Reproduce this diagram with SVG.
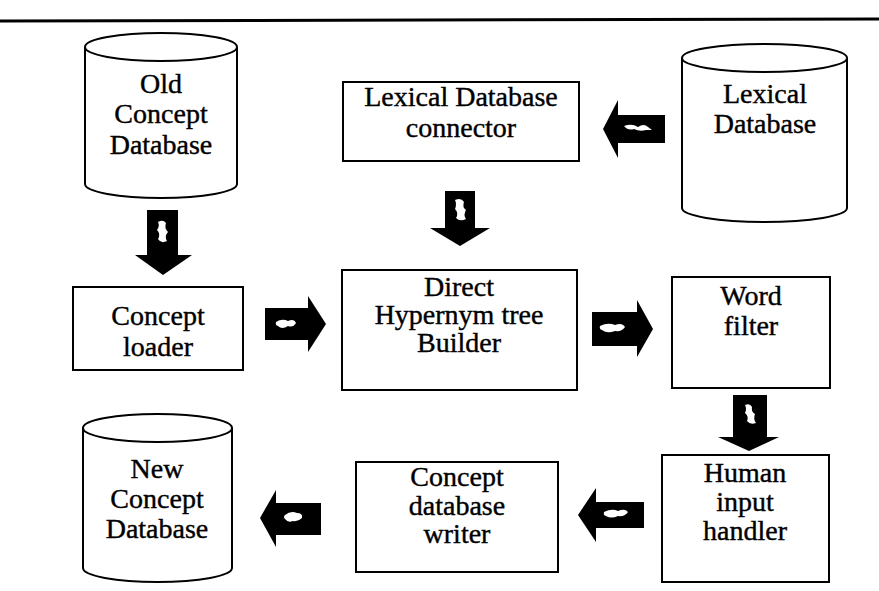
<svg xmlns="http://www.w3.org/2000/svg" width="879" height="591" viewBox="0 0 879 591">
<style>
.bx{fill:#fff;stroke:#000;stroke-width:2}
.cy{fill:#fff;stroke:#000;stroke-width:2}
.t{font-family:"Liberation Serif","Times New Roman",serif;font-size:28px;fill:#000;stroke:#000;stroke-width:0.4;text-anchor:middle}
.s{font-size:26px}
.ar{fill:#000}
.bl{fill:#fff}
</style>
<rect width="879" height="591" fill="#fff"/>
<line x1="0" y1="21" x2="879" y2="19" stroke="#000" stroke-width="3"/>

<g id="old-concept-db">
<path class="cy" d="M85,47 L85,184 A76,14 0 0 0 237,184 L237,47"/>
<ellipse class="cy" cx="161" cy="47" rx="76" ry="14"/>
<text class="t" x="161" y="93">Old</text>
<text class="t" x="161" y="123">Concept</text>
<text class="t" x="161" y="154">Database</text>
</g>

<g id="lexical-connector">
<rect class="bx" x="343" y="82" width="236" height="79"/>
<text class="t" x="461" y="106">Lexical Database</text>
<text class="t" x="461" y="137">connector</text>
</g>

<g id="lexical-db">
<path class="cy" d="M682,58 L682,208 A82.5,14 0 0 0 847,208 L847,58"/>
<ellipse class="cy" cx="764.5" cy="58" rx="82.5" ry="14"/>
<text class="t" x="765" y="103">Lexical</text>
<text class="t" x="765" y="133">Database</text>
</g>

<g id="concept-loader">
<rect class="bx" x="73" y="287" width="170" height="83"/>
<text class="t" x="158" y="325">Concept</text>
<text class="t" x="158" y="356">loader</text>
</g>

<g id="builder">
<rect class="bx" x="342" y="270" width="235" height="120"/>
<text class="t" x="459" y="296">Direct</text>
<text class="t" x="459" y="324">Hypernym tree</text>
<text class="t" x="459" y="352">Builder</text>
</g>

<g id="word-filter">
<rect class="bx" x="672" y="277" width="158" height="111"/>
<text class="t" x="751" y="305">Word</text>
<text class="t" x="751" y="335">filter</text>
</g>

<g id="human-input">
<rect class="bx" x="662" y="455" width="167" height="127"/>
<text class="t" x="745" y="482">Human</text>
<text class="t" x="745" y="511">input</text>
<text class="t" x="745" y="540">handler</text>
</g>

<g id="db-writer">
<rect class="bx" x="356" y="462" width="202" height="110"/>
<text class="t" x="457" y="486">Concept</text>
<text class="t" x="457" y="515">database</text>
<text class="t" x="457" y="543">writer</text>
</g>

<g id="new-concept-db">
<path class="cy" d="M83,428 L83,568 A74.5,14 0 0 0 232,568 L232,428"/>
<ellipse class="cy" cx="157.5" cy="428" rx="74.5" ry="14"/>
<text class="t" x="157" y="478">New</text>
<text class="t" x="157" y="508">Concept</text>
<text class="t" x="157" y="538">Database</text>
</g>

<g id="connectors">
<path class="ar" d="M147,210 H178 V255 H192 L163,275 L135,255 H147 Z"/>
<path class="bl" d="M158,222 q5,-3 8,1 q-2,5 2,9 q-4,4 -1,9 q-6,3 -9,-2 q3,-5 -1,-9 q3,-4 1,-8 Z"/>
<path class="ar" d="M445,191 H475 V228 H490 L460,246 L430,228 H445 Z"/>
<path class="bl" d="M455,200 q6,-3 9,2 q-2,5 2,8 q-3,5 0,9 q-6,3 -10,-1 q3,-5 -1,-9 q2,-5 0,-9 Z"/>
<path class="ar" d="M733,395 H767 V437 H779 L749,451 L718,437 H733 Z"/>
<path class="bl" d="M745,405 q5,-2 7,2 q-1,5 3,7 q-2,5 1,9 q-6,2 -9,-2 q2,-5 -2,-8 q2,-4 0,-8 Z"/>
<path class="ar" d="M265,308 H308 V296 L326,324 L308,352 V340 H265 Z"/>
<path class="bl" d="M276,322 q6,-4 12,-1 q6,-3 8,2 q-3,5 -8,3 q-6,4 -10,0 q-3,-1 -2,-4 Z"/>
<path class="ar" d="M592,312 H637 V300 L653,329 L637,357 V346 H592 Z"/>
<path class="bl" d="M600,326 q8,-4 15,-1 q7,-3 10,2 q-3,5 -10,4 q-8,3 -13,-1 q-3,-1 -2,-4 Z"/>
<path class="ar" d="M665,115 H618 V100 L603,129 L618,158 V143 H665 Z"/>
<path class="bl" d="M624,126 q8,-3 14,1 q6,-4 10,0 l4,3 h-6 q-6,2 -12,-1 q-6,2 -10,-3 Z"/>
<path class="ar" d="M644,502 H596 V488 L578,515 L596,542 V528 H644 Z"/>
<path class="bl" d="M604,512 q8,-4 14,-1 q7,-3 10,1 q-3,5 -10,4 q-7,3 -12,0 q-3,-1 -2,-4 Z"/>
<path class="ar" d="M321,503 H276 V490 L260,518 L276,547 V535 H321 Z"/>
<path class="bl" d="M285,515 q6,-5 12,-2 q6,0 5,5 q-4,4 -9,3 q-5,2 -8,-2 q-2,-2 0,-4 Z"/>
</g>
</svg>
